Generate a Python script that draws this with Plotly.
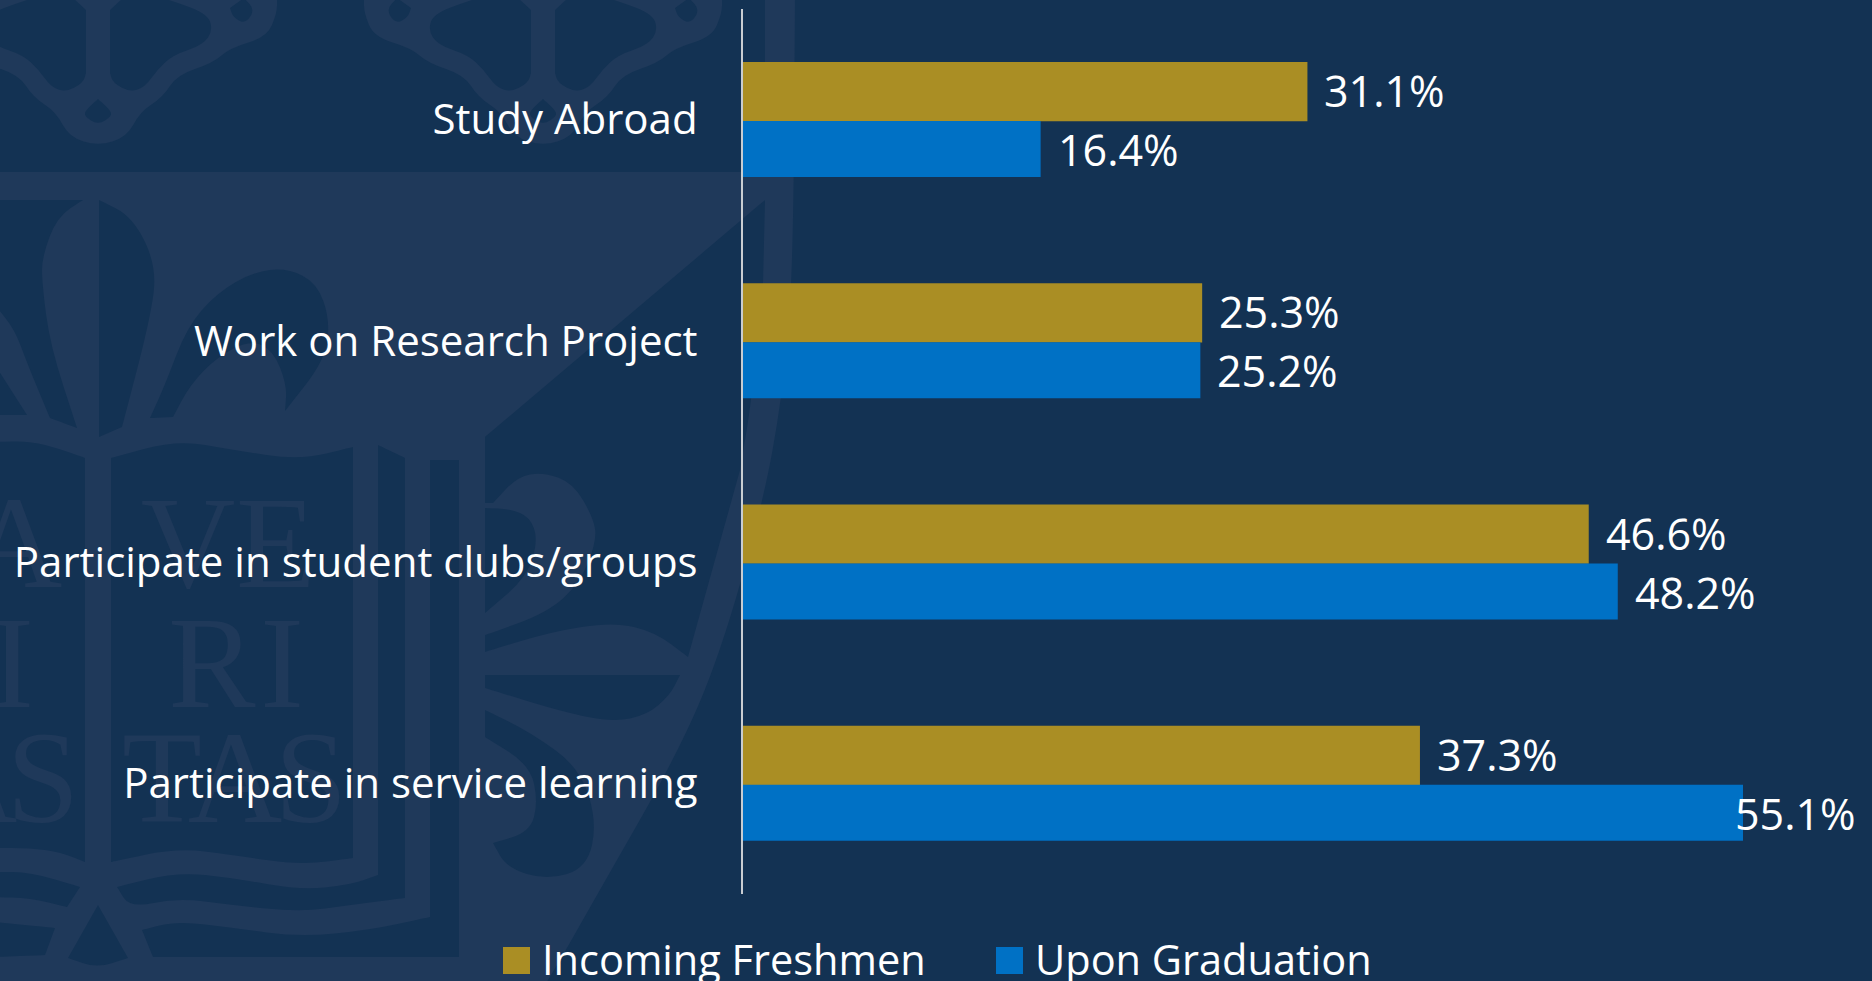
import plotly.graph_objects as go

categories = ["Study Abroad", "Work on Research Project", "Participate in student clubs/groups", "Participate in service learning"]
freshmen = [31.1, 25.3, 46.6, 37.3]
graduation = [16.4, 25.2, 48.2, 55.1]
fresh_labels = ["31.1%", "25.3%", "46.6%", "37.3%"]
grad_labels = ["16.4%", "25.2%", "48.2%", "55.1%"]
series_names = ["Incoming Freshmen", "Upon Graduation"]

BG = "#133253"
CREST = "#1F395A"
GOLD = "#AA8E24"
BLUE = "#0071C5"
FONT = "Open Sans, Noto Sans, sans-serif"
W, H = 1872, 981
L, R, T, B = 743, 129, 9, 87
PW, PH = W - L - R, H - T - B


def px(x):
    return (x - L) / PW


def py(y):
    return 1 - (y - T) / PH


def path(points):
    """Closed smooth outline through page-pixel points; a third item marks a sharp corner."""
    pts = []
    for p in points:
        pts.append((p[0], p[1]))
        if len(p) > 2:
            pts.append((p[0], p[1]))
    mid = lambda a, b: ((a[0] + b[0]) / 2, (a[1] + b[1]) / 2)
    n = len(pts)
    s = mid(pts[-1], pts[0])
    d = f"M{px(s[0]):.5f},{py(s[1]):.5f}"
    for i in range(n):
        m = mid(pts[i], pts[(i + 1) % n])
        d += f"Q{px(pts[i][0]):.5f},{py(pts[i][1]):.5f} {px(m[0]):.5f},{py(m[1]):.5f}"
    return d + "Z"


def crest_shape(points, color):
    return dict(type="path", xref="paper", yref="paper", path=path(points), fillcolor=color,
                line_width=0, layer="below")


shapes = []

# ---- decorative crest behind the chart ----
# top scroll motif, drawn twice about a centre line
motif_half = [(0, -2, 1), (179, -2, 1), (179, 13), (169, 37), (132, 48), (115, 63), (79, 75), (65, 97), (42, 112), (29, 137), (0, 146)]
motif_cell = [(12, 10, 1), (25, -2, 1), (65, -2, 1), (109, 13), (115, 30), (105, 45), (75, 55), (59, 70), (47, 87), (32, 92), (15, 83), (12, 73, 1)]
motif_drop = [(132, 8, 1), (146, -2, 1), (157, 10), (147, 24), (135, 17)]
motif_tear = [(0, 99, 1), (12, 110), (14, 116), (0, 125), (-14, 116), (-12, 110)]

for cx in (98, 543):
    right = [(cx + p[0], *p[1:]) for p in motif_half]
    left = [(cx - p[0], *p[1:]) for p in reversed(motif_half[:-1])]
    shapes.append(crest_shape(right + left, CREST))
    for side in (1, -1):
        for part in (motif_cell, motif_drop):
            shapes.append(crest_shape([(cx + side * p[0], *p[1:]) for p in part], BG))
    shapes.append(crest_shape([(cx + p[0], *p[1:]) for p in motif_tear], BG))

shield = [(-5, 172, 1), (765, 172, 1), (765, -2, 1), (795, -2, 1), (793, 283), (782, 398), (763, 503), (720, 655),
          (677, 755), (597, 895), (563, 955), (545, 985, 1), (-5, 985, 1)]
shapes.append(crest_shape(shield, CREST))

crest_cells = [
    # upper field
    [(-5, 200, 1), (83, 200, 1), (57, 217), (42, 257), (42, 283), (50, 345), (77, 428, 1), (50, 418, 1), (27, 363), (15, 330), (-5, 305, 1)],
    [(-5, 365, 1), (27, 415, 1), (-5, 415, 1)],
    [(99, 200, 1), (133, 217), (157, 267), (150, 320), (122, 427, 1), (99, 437, 1)],
    [(150, 418, 1), (165, 385), (187, 327), (217, 293), (253, 272), (287, 268), (317, 283), (330, 320), (325, 360),
     (285, 411, 1), (287, 385), (273, 350), (250, 340), (217, 357), (190, 385), (173, 417, 1)],
    # right-hand field
    [(765, 200, 1), (485, 437, 1), (485, 503, 1), (493, 503, 1), (517, 477), (543, 472), (573, 483), (593, 517), (597, 540),
     (580, 583), (547, 613), (485, 635, 1), (485, 652, 1), (550, 632), (613, 622), (655, 632), (688, 657, 1), (740, 470, 1), (752, 398),
     (763, 283, 1)],
    [(485, 508, 1), (510, 509), (530, 517), (538, 540), (527, 577), (485, 613, 1)],
    [(485, 675, 1), (680, 675, 1), (670, 695), (647, 715), (613, 722), (563, 712), (485, 688, 1)],
    [(485, 710, 1), (530, 732), (580, 768), (597, 822), (587, 868), (547, 880), (507, 868), (493, 843, 1), (530, 832), (538, 802),
     (530, 765), (485, 737, 1)],
    # open book
    [(-5, 442, 1), (30, 441), (60, 449), (85, 458, 1), (85, 862, 1), (60, 852), (30, 848), (-5, 848, 1)],
    [(111, 458, 1), (177, 440), (233, 450), (300, 460), (353, 447, 1), (353, 858, 1), (300, 865), (233, 855), (177, 848), (111, 862, 1)],
    [(378, 445, 1), (405, 458, 1), (405, 898, 1), (350, 905), (300, 912), (233, 905), (177, 898), (130, 908), (117, 887, 1), (177, 872),
     (233, 878), (300, 890), (350, 885), (378, 875, 1)],
    [(430, 460, 1), (459, 460, 1), (459, 957, 1), (153, 957, 1), (142, 930, 1), (177, 921), (233, 928), (300, 937), (370, 930), (430, 917, 1)],
    [(-5, 872, 1), (30, 872), (80, 887, 1), (67, 907, 1), (30, 898), (-5, 897, 1)],
    [(-5, 922, 1), (55, 928, 1), (45, 955, 1), (-5, 957, 1)],
    [(98, 905, 1), (128, 958, 1), (97, 968), (68, 958, 1)],
]
for cell in crest_cells:
    shapes.append(crest_shape(cell, BG))

# motto letters of the crest: letter, centre x, top y of the capitals
crest_letters = [("A", 15, 488), ("V", 188, 488), ("E", 276, 488), ("I", 12, 608), ("R", 212, 608), ("I", 282, 608),
                 ("A", -30, 723), ("S", 43, 723), ("T", 162, 723), ("A", 235, 723), ("S", 311, 723)]
for letter, cx, top in crest_letters:
    shapes.append(dict(type="rect", xref="paper", yref="paper", x0=px(cx - 60), x1=px(cx + 60), y0=py(top + 90), y1=py(top - 10),
                       fillcolor="rgba(0,0,0,0)", line_width=0, layer="below",
                       label=dict(text=letter, textposition="middle center",
                                  font=dict(family="Liberation Serif", size=131, color=CREST))))

# ---- legend swatches ----
legend_x = [503, 996]
for x0, colour in zip(legend_x, [GOLD, BLUE]):
    shapes.append(dict(type="rect", xref="paper", yref="paper", x0=px(x0), x1=px(x0 + 27), y0=py(974), y1=py(947),
                       fillcolor=colour, line_width=0))

fig = go.Figure()
fig.add_bar(y=categories, x=freshmen, name=series_names[0], orientation="h", width=0.267, offset=-0.26,
            marker=dict(color=GOLD, line_width=0), showlegend=False)
fig.add_bar(y=categories, x=graduation, name=series_names[1], orientation="h", width=0.253, offset=0.0063,
            marker=dict(color=BLUE, line_width=0), showlegend=False)

annotations = []
top_value = max(graduation)
for cat, values, labels, yshift in [(categories, freshmen, fresh_labels, 29), (categories, graduation, grad_labels, -30)]:
    for c, v, t in zip(cat, values, labels):
        annotations.append(dict(x=v, y=c, xref="x", yref="y", text=t, showarrow=False, xanchor="left", yanchor="middle",
                                xshift=-10 if v == top_value else 15, yshift=yshift,
                                font=dict(size=43, color="white", family=FONT)))
for name, x0 in zip(series_names, legend_x):
    annotations.append(dict(x=px(x0 + 37), y=py(959), xref="paper", yref="paper", text=name, showarrow=False,
                            xanchor="left", yanchor="middle", font=dict(size=41.5, color="white", family=FONT)))

fig.update_layout(
    width=W, height=H, paper_bgcolor=BG, plot_bgcolor="rgba(0,0,0,0)",
    margin=dict(l=L, r=R, t=T, b=B, autoexpand=False), barmode="overlay", showlegend=False,
    font=dict(family=FONT, color="white", size=42),
    xaxis=dict(visible=False, range=[0, 55.1], fixedrange=True),
    yaxis=dict(autorange="reversed", showline=True, linecolor="#C9CDD2", linewidth=2, ticks="", showgrid=False,
               tickfont=dict(size=42, color="white", family=FONT), ticklabelstandoff=35, fixedrange=True),
    shapes=shapes, annotations=annotations,
)
fig.write_html("out.html", config=dict(displayModeBar=False),
               post_script="document.body.style.margin='0';document.body.style.overflow='hidden';")
